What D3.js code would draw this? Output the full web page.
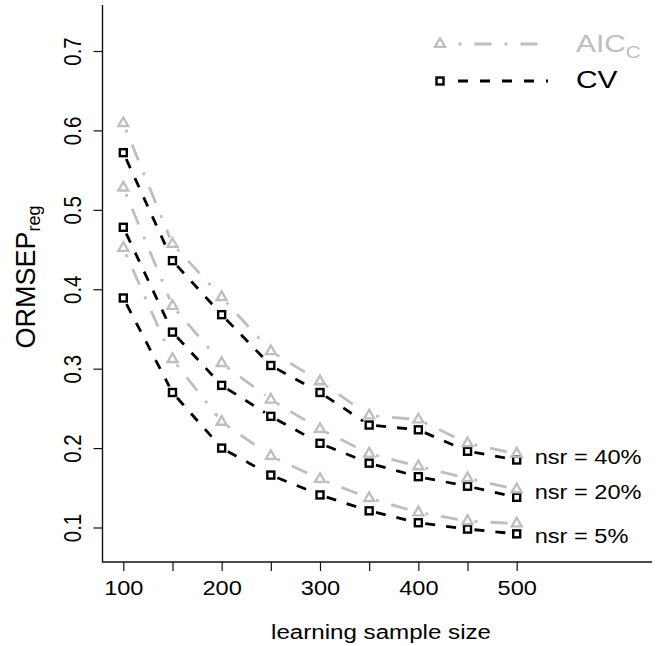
<!DOCTYPE html>
<html><head><meta charset="utf-8">
<script src="https://cdn.jsdelivr.net/npm/d3@7/dist/d3.min.js"></script>
<style>body{margin:0;background:#fff}svg{display:block}text{font-family:"Liberation Sans",Arial,Helvetica,sans-serif}</style>
</head><body>
<script>
// ---- data ----
const sizes = [100,150,200,250,300,350,400,450,500];
const aic40 = [0.609,0.457,0.390,0.322,0.284,0.241,0.236,0.206,0.193];
const cv40  = [0.572,0.436,0.368,0.304,0.270,0.229,0.223,0.196,0.185];
const aic20 = [0.528,0.379,0.307,0.261,0.224,0.193,0.177,0.162,0.148];
const cv20  = [0.478,0.346,0.279,0.240,0.206,0.181,0.164,0.152,0.138];
const aic5  = [0.452,0.312,0.233,0.190,0.161,0.137,0.119,0.108,0.105];
const cv5   = [0.389,0.270,0.200,0.166,0.141,0.121,0.106,0.098,0.092];
const nsrLabels = ["nsr = 40%","nsr = 20%","nsr = 5%"];
const nsrY = [0.19,0.145,0.09];
const yTicks = [0.1,0.2,0.3,0.4,0.5,0.6,0.7];
const xTicks = [100,150,200,250,300,350,400,450,500];
const xTickLabels = ["100","","200","","300","","400","","500"];
const legendLabels = ["AIC","CV"];

const W=656,H=646, GRAY="#bebebe", SX=1.15;
const svg=d3.select("body").append("svg").attr("width",W).attr("height",H);
const x=d3.scaleLinear().domain([100,500]).range([123.3,516.7]);
const y=d3.scaleLinear().domain([0.1,0.7]).range([527.5,51]);
const axX=102.5, axY=562;

// horizontally stretched text helper
function stext(parent,tx,ty,size,anchor,fill){
  return parent.append("text").attr("transform",`translate(${tx},${ty}) scale(${SX},1)`)
    .attr("font-size",size).attr("text-anchor",anchor||"start").attr("fill",fill||"#000");
}

// axes box (L)
svg.append("path").attr("d",`M${axX},5V${axY}H652`).attr("fill","none").attr("stroke","#111").attr("stroke-width",1.4);

const ya=svg.append("g").attr("transform",`translate(${axX},0)`)
  .call(d3.axisLeft(y).tickValues(yTicks).tickSize(9).tickFormat(d3.format(".1f")));
ya.select(".domain").remove();
ya.selectAll("line").attr("stroke","#111").attr("stroke-width",1.2);
ya.selectAll("text").attr("font-size",20.5).attr("fill","#000")
  .attr("text-anchor","middle").attr("x",0).attr("dy",null).attr("y",0)
  .attr("transform",`translate(-22,0) rotate(-90) scale(1,${SX})`);

const xa=svg.append("g").attr("transform",`translate(0,${axY})`)
  .call(d3.axisBottom(x).tickValues(xTicks).tickSize(9).tickFormat((d,i)=>xTickLabels[i]));
xa.select(".domain").remove();
xa.selectAll("line").attr("stroke","#111").attr("stroke-width",1.2);
xa.selectAll("text").attr("font-size",20.5).attr("fill","#000").attr("dy",null).attr("y",0)
  .attr("transform",`translate(0,33) scale(${SX},1)`);

// axis titles
stext(svg,381,639,21,"middle").text("learning sample size");
const yt=svg.append("text").attr("transform","translate(35,277) rotate(-90)").attr("text-anchor","middle").attr("font-size",27);
yt.append("tspan").text("ORMSEP");
yt.append("tspan").attr("font-size",18).attr("dy",5).text("reg");

// series
const series=[
  {v:cv40,type:"cv"},{v:cv20,type:"cv"},{v:cv5,type:"cv"},
  {v:aic40,type:"aic"},{v:aic20,type:"aic"},{v:aic5,type:"aic"}];
const gap=7;
const CVDASH="10,11", AICDASH="3,13,17,13";
function triPath(cx,cy){const s=10,h=s*Math.sqrt(3)/2;return `M${cx},${cy-h*2/3}L${cx+s/2},${cy+h/3}L${cx-s/2},${cy+h/3}Z`;}
series.forEach(s=>{
  const g=svg.append("g");
  const stroke=s.type==="cv"?"#000":GRAY;
  const dash=s.type==="cv"?CVDASH:AICDASH;
  for(let i=0;i<sizes.length-1;i++){
    const x1=x(sizes[i]),y1=y(s.v[i]),x2=x(sizes[i+1]),y2=y(s.v[i+1]);
    const L=Math.hypot(x2-x1,y2-y1); if(L<2*gap) continue;
    const ux=(x2-x1)/L,uy=(y2-y1)/L;
    g.append("line").attr("x1",x1+ux*gap).attr("y1",y1+uy*gap).attr("x2",x2-ux*gap).attr("y2",y2-uy*gap)
      .attr("stroke",stroke).attr("stroke-width",2.8).attr("stroke-dasharray",dash);
  }
  sizes.forEach((d,i)=>{
    if(s.type==="cv") g.append("rect").attr("x",x(d)-3.5).attr("y",y(s.v[i])-3.5).attr("width",7).attr("height",7)
      .attr("fill","none").attr("stroke","#000").attr("stroke-width",2.4);
    else g.append("path").attr("d",triPath(x(d),y(s.v[i]))).attr("fill","none").attr("stroke",GRAY).attr("stroke-width",2.3);
  });
});

// nsr labels
nsrLabels.forEach((lab,i)=>{
  stext(svg,x(500)+18,y(nsrY[i])+7.5,20.5,"start").text(lab);
});

// legend
const lg=svg.append("g");
lg.append("path").attr("d",triPath(440,44)).attr("fill","none").attr("stroke",GRAY).attr("stroke-width",2.3);
lg.append("line").attr("x1",458.5).attr("x2",549).attr("y1",44).attr("y2",44).attr("stroke",GRAY).attr("stroke-width",2.8).attr("stroke-dasharray",AICDASH);
lg.append("rect").attr("x",436.5).attr("y",77.5).attr("width",7).attr("height",7).attr("fill","none").attr("stroke","#000").attr("stroke-width",2.4);
lg.append("line").attr("x1",458).attr("x2",548).attr("y1",81).attr("y2",81).attr("stroke","#000").attr("stroke-width",2.8).attr("stroke-dasharray","10,12");
const t1=lg.append("text").attr("transform",`translate(576,51.5) scale(1.22,1)`).attr("font-size",24.5).attr("fill",GRAY);
t1.append("tspan").text(legendLabels[0]);
t1.append("tspan").attr("font-size",17).attr("dy",6).text("C");
lg.append("text").attr("transform",`translate(576,88) scale(1.22,1)`).attr("font-size",24.5).attr("fill","#000").text(legendLabels[1]);
</script>
</body></html>
